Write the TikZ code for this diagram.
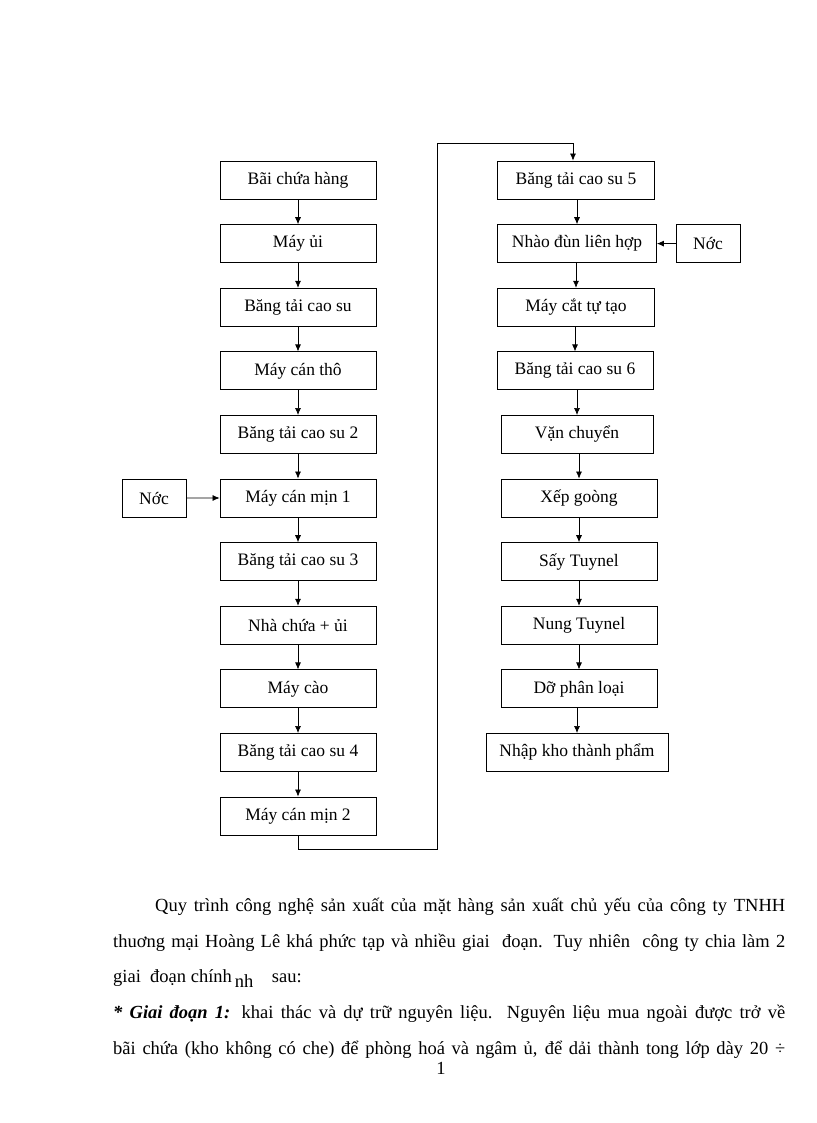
\documentclass[tikz,border=0pt]{standalone}
\usepackage{fontspec}
\usetikzlibrary{arrows.meta}
\setmainfont{Liberation Serif}
\begin{document}
\begin{tikzpicture}[x=1pt,y=-1pt,
  box/.style={draw,line width=0.8pt,minimum height=38pt,inner sep=0pt,font=\fontsize{17.5}{20}\selectfont},
  arr/.style={-{Latex[length=7pt,width=6pt]},line width=0.7pt},
  ln/.style={anchor=west,inner sep=0pt,font=\fontsize{18.5}{22}\selectfont}]
\useasboundingbox (0,0) rectangle (816,1123);
\foreach \n/\t [count=\i from 0] in {l1/Bãi chứa hàng,l2/Máy ủi,l3/Băng tải cao su,l4/Máy cán thô,l5/Băng tải cao su 2,l6/Máy cán mịn 1,l7/Băng tải cao su 3,l8/Nhà chứa + ủi,l9/Máy cào,l10/Băng tải cao su 4,l11/Máy cán mịn 2}
  \node[box,minimum width=156pt] (\n) at (298,180+63.6*\i) {\t};
\node[box,minimum width=157pt] (r1) at (576,180) {Băng tải cao su 5};
\node[box,minimum width=159pt] (r2) at (577,243.6) {Nhào đùn liên hợp};
\node[box,minimum width=157pt] (r3) at (576,307.2) {Máy cắt tự tạo};
\node[box,minimum width=156pt] (r4) at (575,370.8) {Băng tải cao su 6};
\node[box,minimum width=152pt] (r5) at (577,434.4) {Vặn chuyển};
\node[box,minimum width=156pt] (r6) at (579,498) {Xếp goòng};
\node[box,minimum width=156pt] (r7) at (579,561.6) {Sấy Tuynel};
\node[box,minimum width=156pt] (r8) at (579,625.2) {Nung Tuynel};
\node[box,minimum width=156pt] (r9) at (579,688.8) {Dỡ phân loại};
\node[box,minimum width=182pt] (r10) at (577,752.4) {Nhập kho thành phẩm};
\node[box,minimum width=64pt] (nl) at (154,498) {Nớc};
\node[box,minimum width=64pt] (nr) at (708,243.6) {Nớc};
\foreach \a/\b in {l1/l2,l2/l3,l3/l4,l4/l5,l5/l6,l6/l7,l7/l8,l8/l9,l9/l10,l10/l11}
  \draw[arr] (\a) -- (\b);
\foreach \a/\b in {r1/r2,r2/r3,r3/r4,r4/r5,r5/r6,r6/r7,r7/r8,r8/r9,r9/r10}
  \draw[arr] (\a.south -| \b) -- (\b.north);
\draw[arr] (nl) -- (l6);
\draw[arr] (nr) -- (r2);
\coordinate (c1) at (298,849);
\coordinate (c2) at (437,143);
\draw[arr] (l11.south) -- (c1) -| (c2) -| ([xshift=-3pt]r1.north);
\node[ln] at (113,907) {\makebox[672pt][s]{\hspace*{42pt}Quy trình công nghệ sản xuất của mặt hàng sản xuất chủ yếu của công ty TNHH}};
\node[ln] at (113,943) {\makebox[672pt][s]{thuơng mại Hoàng Lê khá phức tạp và nhiều giai\ \ đoạn. Tuy nhiên\ \ công ty chia làm 2}};
\node[ln] at (113,979) {giai\ \ đoạn chính\,\raisebox{-5pt}{nh}\quad sau:};
\node[ln] at (113,1014) {\makebox[672pt][s]{\textbf{\textit{* Giai đoạn 1:}} khai\ thác và dự trữ nguyên liệu.\ \ Nguyên liệu mua ngoài được trở về}};
\node[ln] at (113,1050) {\makebox[672pt][s]{bãi chứa (kho không có che) để phòng hoá và ngâm ủ, để dải thành tong lớp dày 20 ÷}};
\node[font=\fontsize{18.5}{22}\selectfont,inner sep=0pt] at (441,1068) {1};
\end{tikzpicture}
\end{document}
